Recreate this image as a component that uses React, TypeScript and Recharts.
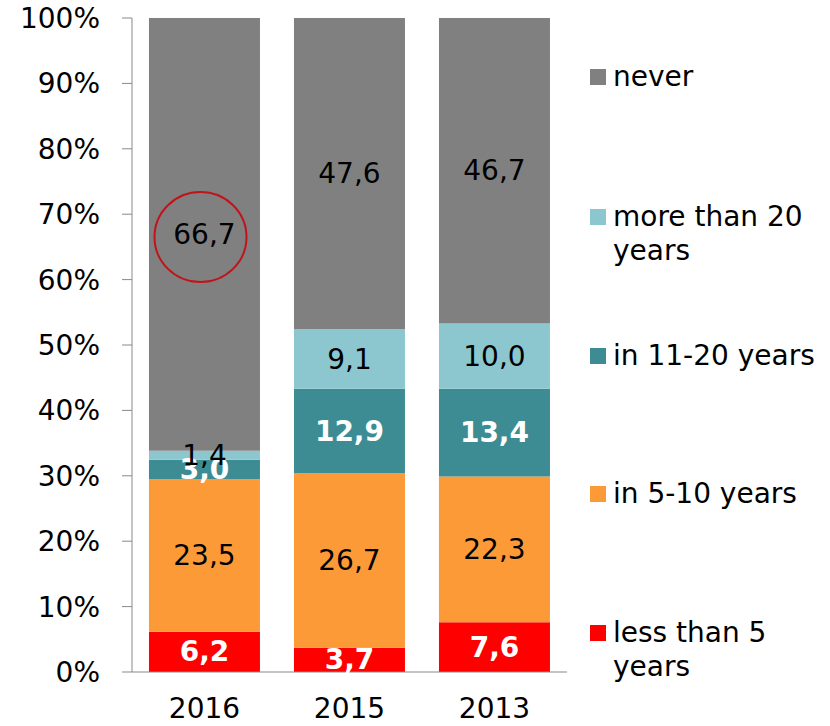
import React from "react";
import {
  BarChart,
  Bar,
  XAxis,
  YAxis,
  LabelList,
  ReferenceDot,
} from "recharts";

const years = ["2016", "2015", "2013"];
const lessThan5 = [6.2, 3.7, 7.6];
const in5to10 = [23.5, 26.7, 22.3];
const in11to20 = [3.0, 12.9, 13.4];
const moreThan20 = [1.4, 9.1, 10.0];
const never = [66.7, 47.6, 46.7];
const yTicks = [0, 0.1, 0.2, 0.3, 0.4, 0.5, 0.6, 0.7, 0.8, 0.9, 1];

const FONT = "'DejaVu Sans', Verdana, sans-serif";

const series = [
  { key: "less", name: "less than 5 years", values: lessThan5, color: "#FF0000", bold: true },
  { key: "mid", name: "in 5-10 years", values: in5to10, color: "#FD9A38", bold: false },
  { key: "long", name: "in 11-20 years", values: in11to20, color: "#3D8C93", bold: true },
  { key: "more", name: "more than 20 years", values: moreThan20, color: "#8CC7CF", bold: false },
  { key: "never", name: "never", values: never, color: "#808080", bold: false },
];

// legend top positions, top item first
const legendTops = [60, 200, 339, 477, 616];

const chartData = years.map((y, i) => {
  const row: Record<string, string | number> = { year: y };
  series.forEach((s) => {
    row[s.key] = s.values[i];
  });
  return row;
});

const fmt = (v: number) => v.toFixed(1).replace(".", ",");

function makeLabel(bold: boolean) {
  return (props: any) => {
    const { x, y, width, height, value } = props;
    return (
      <text
        x={x + width / 2}
        y={y + height / 2}
        textAnchor="middle"
        dominantBaseline="central"
        fontFamily={FONT}
        fontSize={28}
        fontWeight={bold ? "bold" : "normal"}
        fill={bold ? "#ffffff" : "#000000"}
      >
        {fmt(Number(value))}
      </text>
    );
  };
}

// highlight ring around the 2016 "never" value
const ring = (props: any) => (
  <ellipse
    cx={props.cx - 4}
    cy={props.cy}
    rx={46}
    ry={45}
    fill="none"
    stroke="#C0141B"
    strokeWidth={2}
  />
);

export default function App() {
  const legendItems = [...series].reverse();
  return (
    <div style={{ position: "absolute", left: 0, top: 0, width: 830, height: 726, fontFamily: FONT }}>
      <BarChart
        width={830}
        height={726}
        data={chartData}
        stackOffset="expand"
        barCategoryGap="11.7%"
        margin={{ top: 18, right: 263, bottom: 0, left: 0 }}
      >
        <XAxis
          dataKey="year"
          height={54}
          tickLine={false}
          tickSize={0}
          tickMargin={26}
          stroke="#898989"
          tick={{ fill: "#000", fontSize: 28, fontFamily: FONT }}
        />
        <YAxis
          width={132}
          domain={[0, 1]}
          ticks={yTicks}
          tickSize={10}
          tickMargin={22}
          stroke="#898989"
          tickFormatter={(v: number) => `${Math.round(v * 100)}%`}
          tick={{ fill: "#000", fontSize: 28, fontFamily: FONT }}
        />
        {series.map((s) => (
          <Bar key={s.key} dataKey={s.key} stackId="a" fill={s.color} isAnimationActive={false}>
            <LabelList dataKey={s.key} content={makeLabel(s.bold)} />
          </Bar>
        ))}
        <ReferenceDot x="2016" y={0.665} r={46} shape={ring} ifOverflow="visible" />
      </BarChart>
      {legendItems.map((s, i) => (
        <div
          key={s.key}
          style={{
            position: "absolute",
            left: 590,
            top: legendTops[i],
            width: 240,
            display: "flex",
            alignItems: "flex-start",
          }}
        >
          <div
            style={{
              width: 16,
              height: 16,
              background: s.color,
              marginTop: 9,
              marginRight: 7,
              flexShrink: 0,
            }}
          />
          <div style={{ fontSize: 28, lineHeight: "34px", width: 215, color: "#000" }}>{s.name}</div>
        </div>
      ))}
    </div>
  );
}
